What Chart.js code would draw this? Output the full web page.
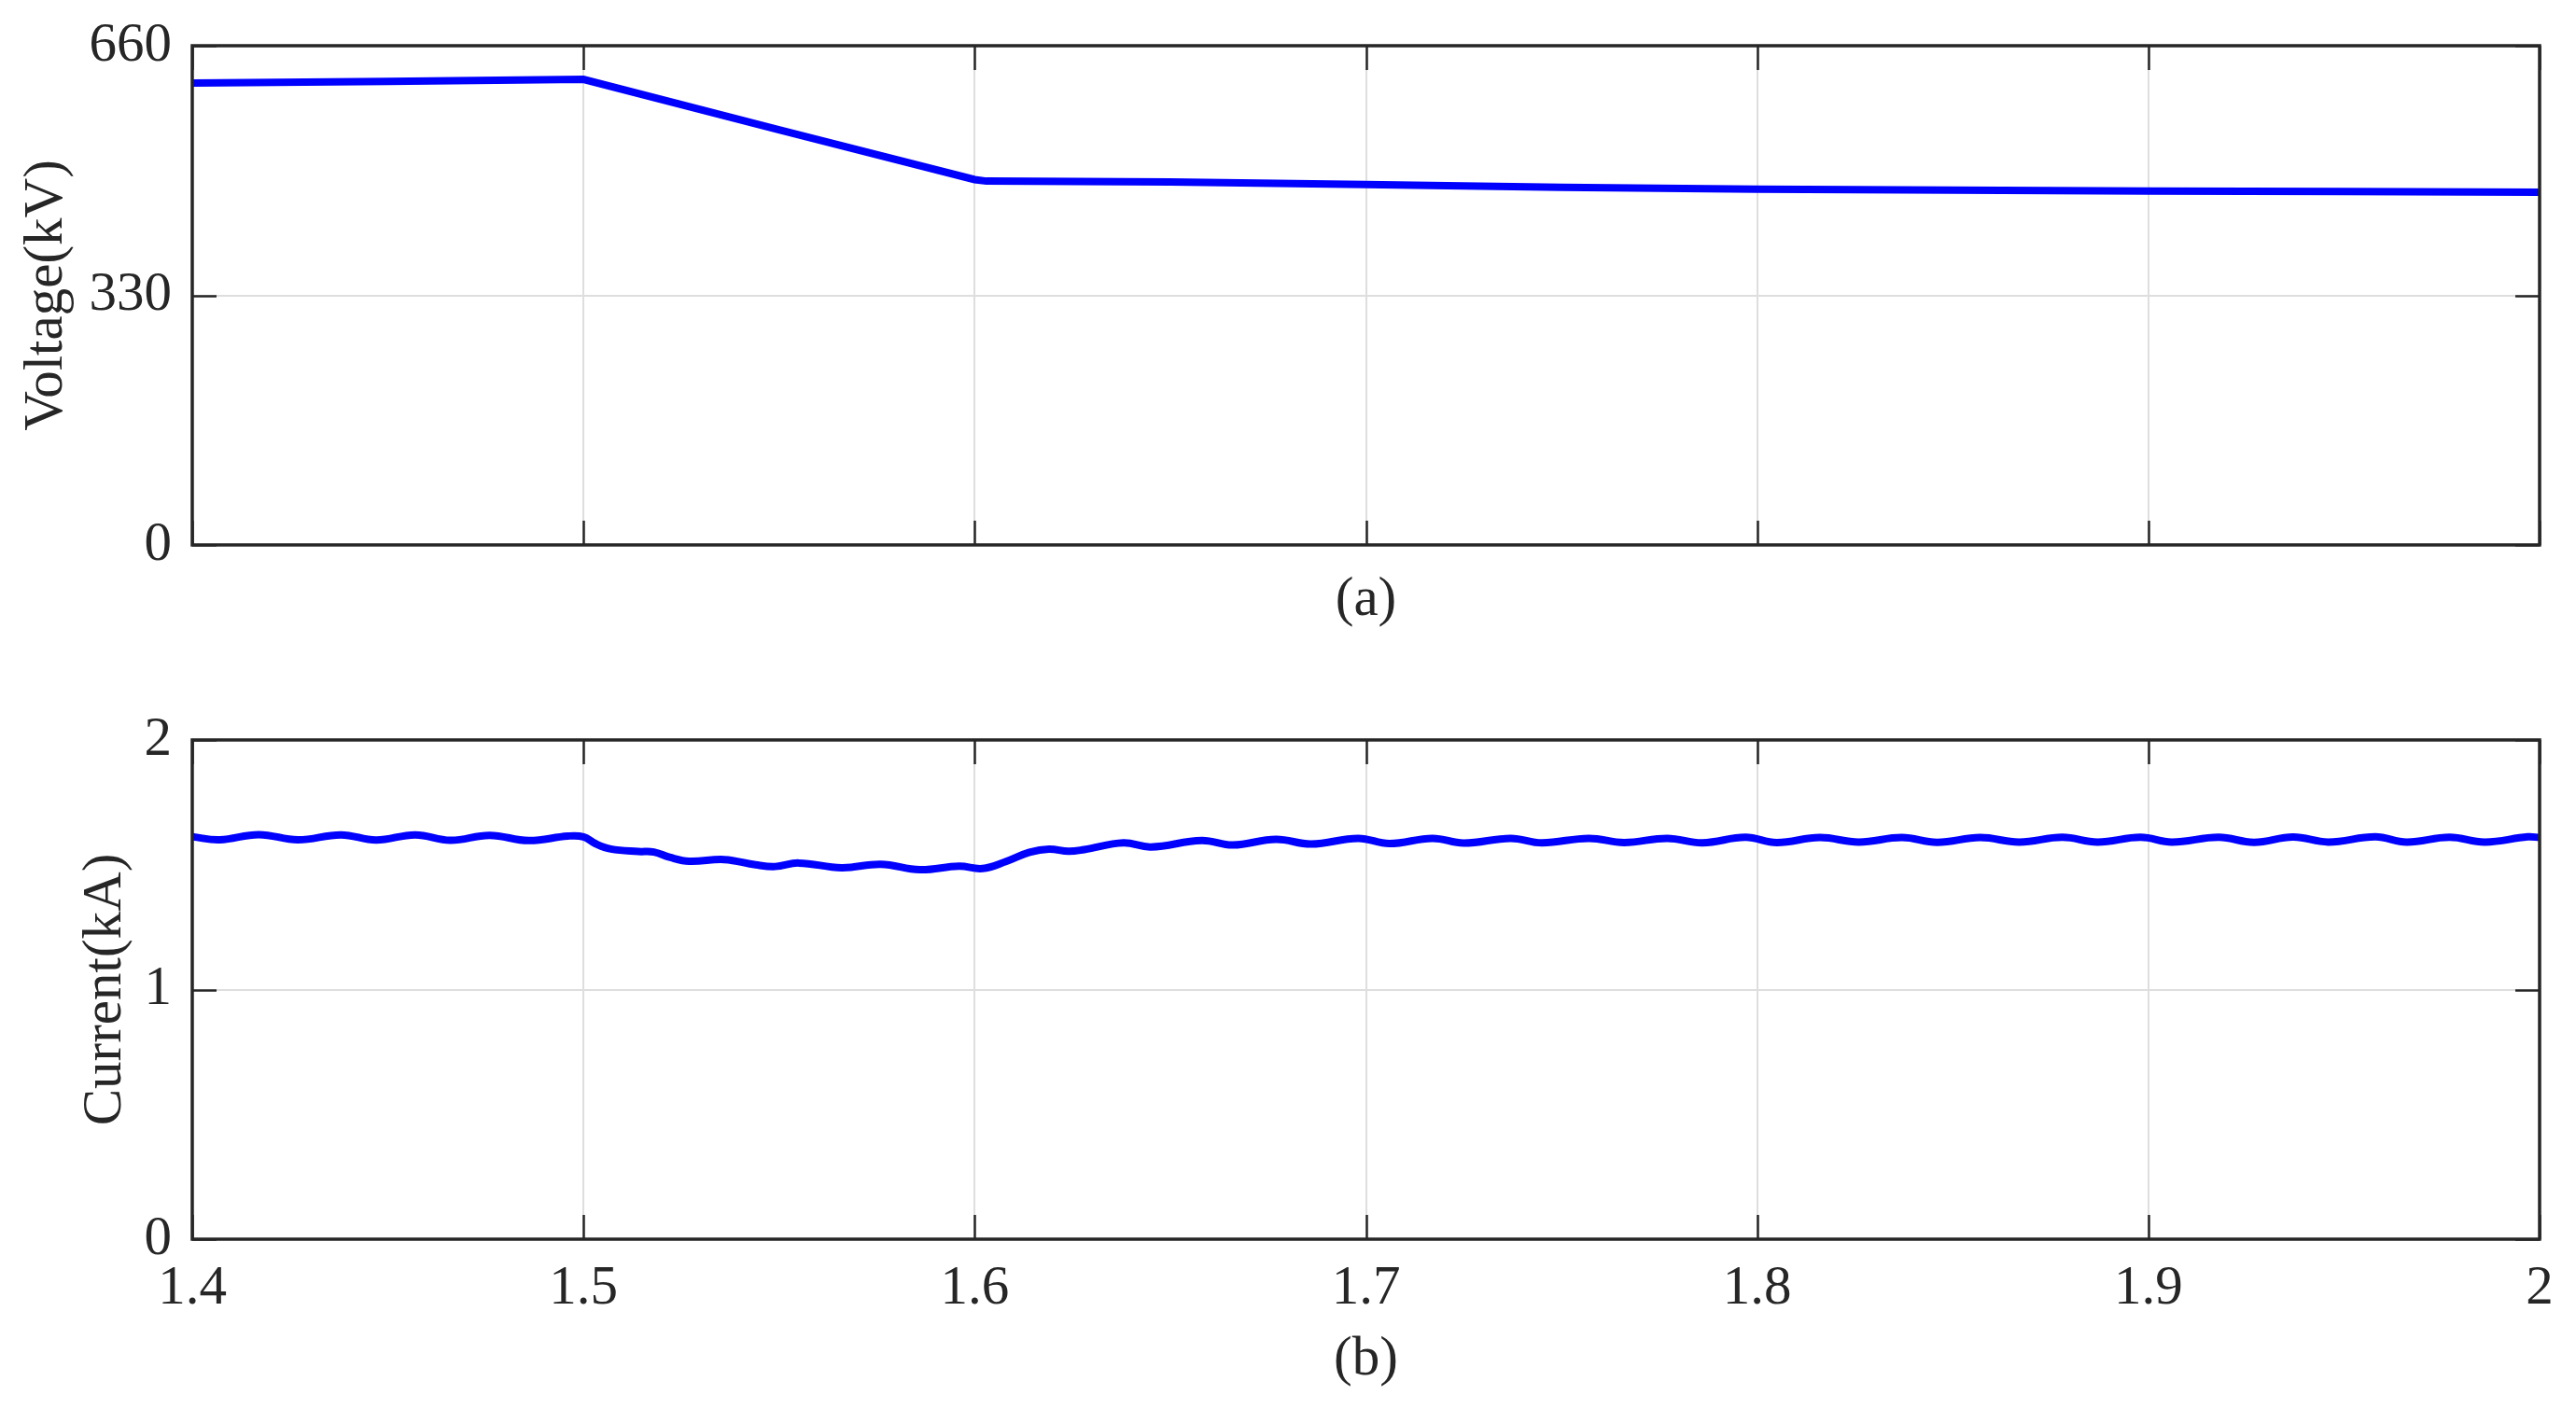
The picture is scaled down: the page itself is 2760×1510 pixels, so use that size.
<!DOCTYPE html>
<html>
<head>
<meta charset="utf-8">
<script src="https://cdn.jsdelivr.net/npm/chart.js@4.4.1/dist/chart.umd.min.js"></script>
<style>
  html, body { margin: 0; padding: 0; background: #ffffff; }
  body { width: 2760px; height: 1510px; position: relative; overflow: hidden; }
  canvas { position: absolute; left: 0; }
  #c1 { top: -30px; }
  #c2 { top: 700px; }
</style>
</head>
<body>
<canvas id="c1" width="2760" height="730"></canvas>
<canvas id="c2" width="2760" height="810"></canvas>
<script>
// ---- data ----
const voltageTime = [1.4, 1.45, 1.5, 1.55, 1.6, 1.603, 1.65, 1.7, 1.75, 1.8, 1.85, 1.9, 1.95, 2.0];
const voltageKV   = [610.7, 612.7, 615.5, 548.7, 483.0, 481.0, 479.8, 476.6, 472.9, 470.4, 469.2, 468.0, 467.2, 466.3];

const currentTime = [1.400, 1.407, 1.417, 1.427, 1.438, 1.447, 1.457, 1.466, 1.476, 1.486, 1.496, 1.500,
  1.503, 1.507, 1.514, 1.518, 1.522, 1.527, 1.536, 1.544, 1.549, 1.555, 1.566, 1.576, 1.586, 1.596, 1.602,
  1.608, 1.614, 1.619, 1.624, 1.628, 1.638, 1.645, 1.658, 1.666, 1.677, 1.686, 1.698, 1.706, 1.717, 1.725,
  1.737, 1.745, 1.757, 1.766, 1.777, 1.786, 1.797, 1.805, 1.816, 1.826, 1.837, 1.846, 1.857, 1.867, 1.878,
  1.887, 1.898, 1.906, 1.918, 1.927, 1.937, 1.946, 1.958, 1.966, 1.977, 1.986, 1.997, 2.000];
const currentKA = [1.612, 1.600, 1.621, 1.600, 1.620, 1.599, 1.620, 1.598, 1.618, 1.597, 1.615, 1.612,
  1.585, 1.563, 1.553, 1.551, 1.530, 1.514, 1.521, 1.500, 1.493, 1.507, 1.488, 1.502, 1.480, 1.494, 1.485,
  1.513, 1.550, 1.563, 1.554, 1.561, 1.588, 1.571, 1.597, 1.579, 1.602, 1.583, 1.606, 1.585, 1.606, 1.587,
  1.606, 1.588, 1.606, 1.589, 1.606, 1.588, 1.610, 1.589, 1.609, 1.591, 1.609, 1.590, 1.609, 1.591, 1.610,
  1.591, 1.610, 1.591, 1.610, 1.590, 1.611, 1.591, 1.612, 1.591, 1.610, 1.591, 1.612, 1.609];

const xTickLabels = ['1.4', '1.5', '1.6', '1.7', '1.8', '1.9', '2'];
const voltageTickLabels = ['0', '330', '660'];
const currentTickLabels = ['0', '1', '2'];
const voltageTitle = 'Voltage(kV)';
const currentTitle = 'Current(kA)';
const panelA = '(a)';
const panelB = '(b)';

// ---- styling ----
const FONT = { family: '"Liberation Serif", "Times New Roman", serif', size: 59, weight: 'normal' };
const TXT = '#262626';
const GRID = '#dedede';
const LINE = '#0000ff';

const boxPlugin = {
  id: 'matlabBox',
  afterDatasetsDraw(chart) {
    const { ctx, chartArea: a } = chart;
    const xs = chart.scales.x, ys = chart.scales.y;
    const L = 26;
    ctx.save();
    ctx.strokeStyle = TXT;
    ctx.lineWidth = 2.5;
    ctx.beginPath();
    xs.ticks.forEach(t => {
      const px = Math.round(xs.getPixelForValue(t.value)) + 0.5;
      ctx.moveTo(px, a.bottom); ctx.lineTo(px, a.bottom - L);
      ctx.moveTo(px, a.top); ctx.lineTo(px, a.top + L);
    });
    ys.ticks.forEach(t => {
      const py = Math.round(ys.getPixelForValue(t.value)) + 0.5;
      ctx.moveTo(a.left, py); ctx.lineTo(a.left + L, py);
      ctx.moveTo(a.right, py); ctx.lineTo(a.right - L, py);
    });
    ctx.stroke();
    ctx.lineWidth = 3.5;
    ctx.strokeRect(a.left, a.top, a.right - a.left, a.bottom - a.top);
    ctx.restore();
  }
};

function makeChart(id, canvasH, times, values, yMax, yStep, yLabels, yTitle, yTitlePadTop, xTitle, xTitlePadBottom,
                   showXLabels, area, tension) {
  const pts = times.map((t, i) => ({ x: t, y: values[i] }));
  const xAxisHeight = canvasH - area.bottom;
  const chart = new Chart(document.getElementById(id), {
    type: 'line',
    data: { datasets: [{
      data: pts,
      borderColor: LINE,
      backgroundColor: LINE,
      borderWidth: 8,
      pointRadius: 0,
      tension: tension,
      fill: false
    }]},
    options: {
      responsive: false,
      animation: false,
      devicePixelRatio: 1,
      layout: { autoPadding: false, padding: { left: 0, right: 2760 - area.right, top: area.top, bottom: 0 } },
      plugins: { legend: { display: false }, tooltip: { enabled: false } },
      scales: {
        x: {
          type: 'linear',
          min: 1.4, max: 2.0,
          afterFit: s => { s.height = xAxisHeight; },
          border: { display: false },
          grid: { color: GRID, lineWidth: 2, drawTicks: false },
          ticks: {
            display: showXLabels,
            stepSize: 0.1,
            autoSkip: false,
            maxRotation: 0,
            padding: 17.6,
            color: TXT,
            font: FONT,
            callback: (v, i) => xTickLabels[i]
          },
          title: { display: true, text: xTitle, color: TXT, font: FONT, padding: { top: 0, bottom: xTitlePadBottom } }
        },
        y: {
          min: 0, max: yMax,
          afterFit: s => { s.width = area.left; },
          border: { display: false },
          grid: { color: GRID, lineWidth: 2, drawTicks: false },
          ticks: {
            stepSize: yStep,
            padding: 22,
            color: TXT,
            font: FONT,
            callback: (v, i) => yLabels[i]
          },
          title: { display: true, text: yTitle, color: TXT, font: FONT, padding: { top: yTitlePadTop, bottom: 0 } }
        }
      }
    },
    plugins: [boxPlugin]
  });
  // pin the plot area to the reference position
  for (let k = 0; k < 3; k++) {
    const a = chart.chartArea;
    const p = chart.options.layout.padding;
    p.top += area.top - a.top;
    p.bottom += a.bottom - area.bottom;
    p.right += a.right - area.right;
    chart.update();
  }
  return chart;
}

// canvas 1 starts 30px above the page top; canvas 2 starts at 700px
makeChart('c1', 730, voltageTime, voltageKV, 660, 330, voltageTickLabels, voltageTitle, 15.5, panelA, 21.6, false,
          { left: 206, right: 2721, top: 79, bottom: 614 }, 0);
makeChart('c2', 810, currentTime, currentKA, 2, 1, currentTickLabels, currentTitle, 77.6, panelB, 17.6, true,
          { left: 206, right: 2721, top: 93, bottom: 628 }, 0.4);
</script>
</body>
</html>
